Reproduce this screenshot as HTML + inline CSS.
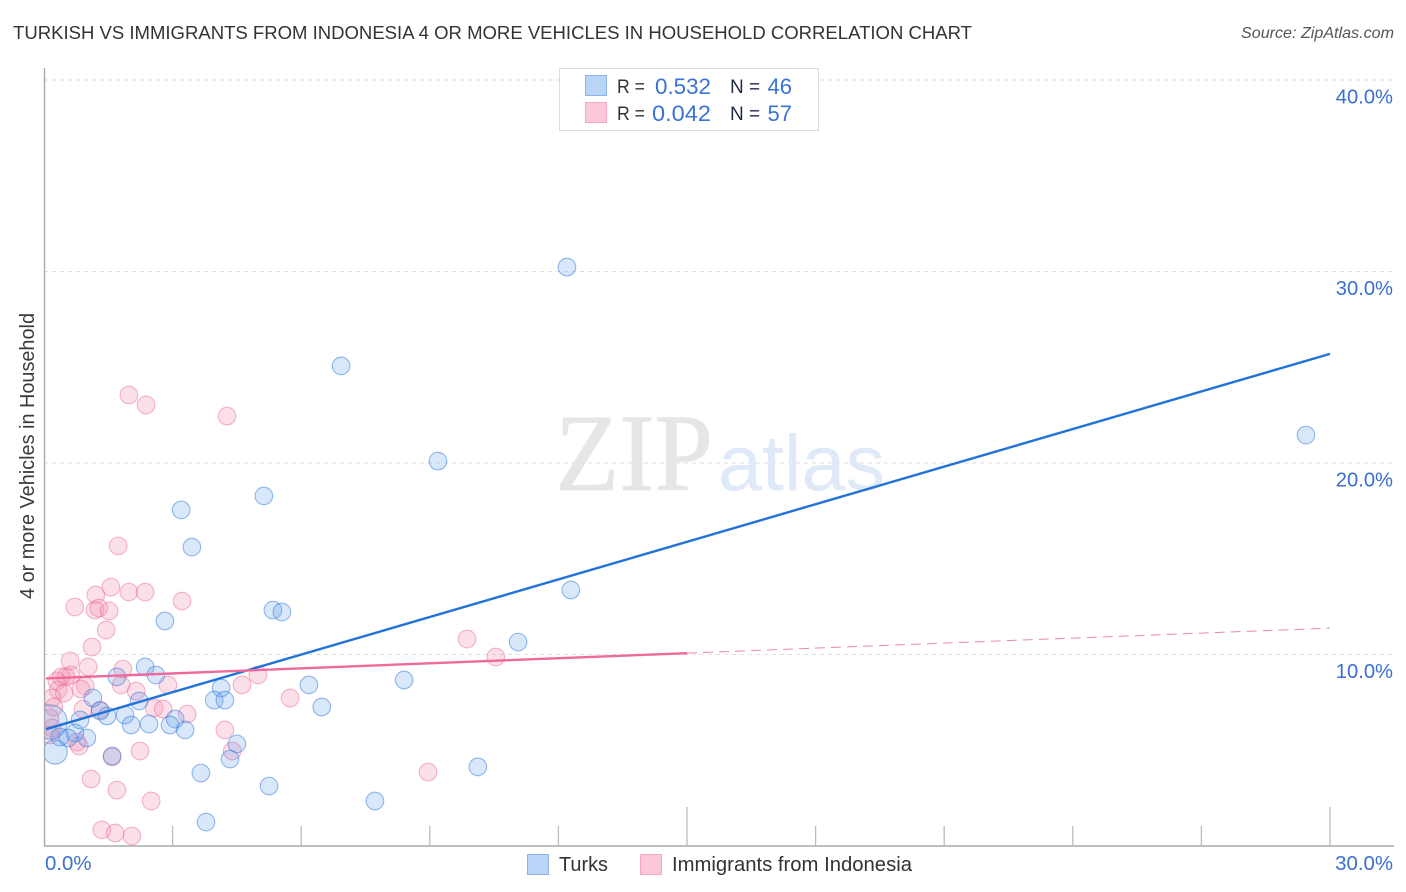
<!DOCTYPE html>
<html lang="en">
<head>
<meta charset="utf-8">
<title>Turkish vs Immigrants from Indonesia 4 or more Vehicles in Household Correlation Chart</title>
<style>
html,body{margin:0;padding:0;background:#fff;}
svg{display:block;font-family:"Liberation Sans",sans-serif;}
</style>
</head>
<body>
<svg id="chart" width="1406" height="892" viewBox="0 0 1406 892" xmlns="http://www.w3.org/2000/svg">
  <defs>
    <clipPath id="plot-clip"><rect x="45" y="68" width="1349" height="777.5"/></clipPath>
  </defs>
  <rect x="0" y="0" width="1406" height="892" fill="#fff"/>
  <text x="13" y="39" font-size="18.5" fill="#333" textLength="959" lengthAdjust="spacingAndGlyphs">TURKISH VS IMMIGRANTS FROM INDONESIA 4 OR MORE VEHICLES IN HOUSEHOLD CORRELATION CHART</text>
  <text x="1394" y="38" font-size="16" font-style="italic" fill="#555" text-anchor="end" textLength="153" lengthAdjust="spacingAndGlyphs">Source: ZipAtlas.com</text>

  <g id="grid"></g>

  <g>
    <text x="555" y="490" style="font-family:'Liberation Serif',serif" font-size="110" fill="#e6e6e6" stroke="#e6e6e6" stroke-width="0.8" textLength="158" lengthAdjust="spacingAndGlyphs">ZIP</text>
    <text x="718" y="490" style="font-family:'Liberation Sans',sans-serif" font-size="79" fill="#dfe9f8" textLength="167" lengthAdjust="spacingAndGlyphs">atlas</text>
  </g>

  <g id="axes"></g>
  <g id="points" clip-path="url(#plot-clip)"></g>
  <g id="trends"></g>
  <g id="labels"></g>

  <text transform="translate(34 456) rotate(-90)" font-size="20" fill="#3a3a3a" text-anchor="middle" textLength="286" lengthAdjust="spacingAndGlyphs">4 or more Vehicles in Household</text>

  <g>
    <rect x="559.5" y="68.5" width="259" height="62" fill="#fff" stroke="#ddd"/>
    <rect x="585.5" y="75.5" width="21" height="20" fill="#b9d4f7" stroke="#8ab4ea"/>
    <rect x="585.5" y="102.5" width="21" height="20" fill="#fcc8d9" stroke="#f3a9c1"/>
    <text x="617" y="93" font-size="19" fill="#333" textLength="28" lengthAdjust="spacingAndGlyphs">R =</text>
    <text x="655" y="94" font-size="22" fill="#3a73d4" textLength="56" lengthAdjust="spacingAndGlyphs">0.532</text>
    <text x="730" y="93" font-size="19" fill="#1f2a44">N =</text>
    <text x="792" y="94" font-size="22" fill="#3a73d4" text-anchor="end">46</text>
    <text x="617" y="120" font-size="19" fill="#333" textLength="28" lengthAdjust="spacingAndGlyphs">R =</text>
    <text x="652" y="121" font-size="22" fill="#3a73d4" textLength="59" lengthAdjust="spacingAndGlyphs">0.042</text>
    <text x="730" y="120" font-size="19" fill="#1f2a44">N =</text>
    <text x="792" y="121" font-size="22" fill="#3a73d4" text-anchor="end">57</text>
  </g>

  <g>
    <rect x="527.5" y="854.5" width="21" height="20" fill="#b9d4f7" stroke="#8ab4ea"/>
    <text x="559" y="871" font-size="20" fill="#333" textLength="49" lengthAdjust="spacingAndGlyphs">Turks</text>
    <rect x="640.5" y="854.5" width="21" height="20" fill="#fcc8d9" stroke="#f3a9c1"/>
    <text x="672" y="871" font-size="20" fill="#333" textLength="240" lengthAdjust="spacingAndGlyphs">Immigrants from Indonesia</text>
  </g>
</svg>
<script>
const yTicks = [10, 20, 30, 40];
const yTickLabels = ["10.0%", "20.0%", "30.0%", "40.0%"];
const xTicks = [3, 6, 9, 12, 15, 18, 21, 24, 27, 30];
const xMajorTicks = [15, 30];
const xEndLabels = ["0.0%", "30.0%"];
const xEndValues = [0, 30];

const turksX = [12.20,6.93,29.44,9.19,5.13,3.20,3.45,12.29,5.34,5.55,2.82,11.06,2.36,2.61,1.70,8.40,6.18,4.13,3.97,4.22,1.14,2.22,6.48,1.31,1.47,1.89,0.84,3.06,2.45,2.03,2.94,3.29,0.72,1.00,0.37,0.56,4.50,1.59,4.34,0.26,10.12,3.66,5.25,7.72,3.78,0.14];
const turksY = [30.23,25.07,21.46,20.10,18.28,17.55,15.61,13.37,12.32,12.22,11.75,10.65,9.35,8.93,8.83,8.67,8.41,8.25,7.62,7.62,7.73,7.57,7.26,7.05,6.79,6.84,6.58,6.63,6.37,6.32,6.32,6.06,5.90,5.64,5.69,5.64,5.33,4.70,4.54,4.91,4.13,3.81,3.13,2.35,1.25,6.48];
const turksWeight = [1,1,1,1,1,1,1,1,1,1,1,1,1,1,1,1,1,1,1,1,1,1,1,1,1,1,1,1,1,1,1,1,1,1,1,1,1,1,1,1.9,1,1,1,1,1,3.8];

const indonesiaX = [1.98,2.38,4.27,1.73,1.56,1.21,1.98,2.36,3.22,0.72,1.19,1.28,1.52,1.45,1.12,0.61,1.03,1.84,4.99,0.63,0.51,0.40,0.30,1.80,0.96,2.89,4.62,0.33,0.47,0.86,2.15,0.19,5.74,0.91,0.23,2.57,2.78,3.34,1.31,0.14,4.22,0.19,0.14,0.77,0.82,4.39,2.24,1.59,8.96,1.10,1.70,2.50,1.35,1.66,2.05,9.87,10.54];
const indonesiaY = [23.55,23.03,22.45,15.67,13.52,13.11,13.26,13.26,12.79,12.48,12.32,12.43,12.27,11.28,10.39,9.66,9.35,9.24,8.93,8.93,8.83,8.83,8.62,8.41,8.36,8.41,8.41,8.15,7.99,8.20,8.09,7.73,7.73,7.15,7.26,7.21,7.15,6.89,7.10,6.68,6.06,6.16,5.80,5.43,5.22,4.96,4.96,4.65,3.86,3.50,2.92,2.35,0.84,0.68,0.52,10.81,9.87];

const turksTrendX = [0, 30];
const turksTrendY = [6.1, 25.7];
const indonesiaSolidX = [0, 15];
const indonesiaSolidY = [8.75, 10.07];
const indonesiaDashedX = [15, 30];
const indonesiaDashedY = [10.07, 11.38];

const NS = "http://www.w3.org/2000/svg";
const xScale = v => 44 + v * (1286 / 30);
const yScale = v => 846 - v * 19.15;
const baseRadius = 8.8;

function make(tag, attrs, parent) {
  const el = document.createElementNS(NS, tag);
  for (const k in attrs) el.setAttribute(k, attrs[k]);
  parent.appendChild(el);
  return el;
}

const grid = document.getElementById("grid");
const axes = document.getElementById("axes");
const points = document.getElementById("points");
const trends = document.getElementById("trends");
const labels = document.getElementById("labels");

yTicks.forEach((t, i) => {
  const line = make("line", {x1: 44, x2: 1394, y1: yScale(t), y2: yScale(t), stroke: "#ddd", "stroke-width": 1, "stroke-dasharray": "4 4"}, grid);
  
  
  const label = make("text", {x: 1393, y: yScale(t) + 23.5, "font-size": 20.2, fill: "#3a6fd0", "text-anchor": "end"}, labels);
  label.textContent = yTickLabels[i];
  
  
});

const yAxis = make("line", {x1: 44.5, x2: 44.5, y1: 68, y2: 846, stroke: "#aaa", "stroke-width": 1.4}, axes);


const xAxis = make("line", {x1: 44, x2: 1394, y1: 846, y2: 846, stroke: "#aaa", "stroke-width": 1.4}, axes);



xTicks.forEach(t => {
  const len = xMajorTicks.includes(t) ? 39 : 20;
  const tick = make("line", {x1: xScale(t), x2: xScale(t), y1: 846 - len, y2: 846, stroke: "#bbb", "stroke-width": 1.3}, axes);
  
  
});

xEndValues.forEach((v, i) => {
  const label = make("text", {x: i === 0 ? 45 : 1393, y: 870, "font-size": 20.4, fill: "#3a6fd0", "text-anchor": i === 0 ? "start" : "end"}, labels);
  label.textContent = xEndLabels[i];
  
  
});

function drawSeries(xs, ys, weights, fill, fillOpacity, stroke, name) {
  xs.forEach((x, i) => {
    const w = weights ? weights[i] : 1;
    const c = make("circle", {cx: xScale(x), cy: yScale(ys[i]), r: baseRadius * Math.sqrt(w), fill: fill, "fill-opacity": fillOpacity, stroke: stroke, "stroke-opacity": 0.5, "stroke-width": 1.1}, points);
    
    
  });
}
drawSeries(indonesiaX, indonesiaY, null, "#f48fb1", 0.28, "#ec6d97", "indonesia");
drawSeries(turksX, turksY, turksWeight, "#5b9bea", 0.24, "#2f78d8", "turks");

const turksLine = make("line", {x1: xScale(turksTrendX[0]) + 2, y1: yScale(turksTrendY[0]), x2: xScale(turksTrendX[1]), y2: yScale(turksTrendY[1]), stroke: "#2272d8", "stroke-width": 2.4}, trends);



const indoSolid = make("line", {x1: xScale(indonesiaSolidX[0]) + 2, y1: yScale(indonesiaSolidY[0]), x2: xScale(indonesiaSolidX[1]), y2: yScale(indonesiaSolidY[1]), stroke: "#ef6a9a", "stroke-width": 2.4}, trends);



const indoDashed = make("line", {x1: xScale(indonesiaDashedX[0]), y1: yScale(indonesiaDashedY[0]), x2: xScale(indonesiaDashedX[1]), y2: yScale(indonesiaDashedY[1]), stroke: "#e88aab", "stroke-width": 1, "stroke-dasharray": "10 6"}, trends);


</script>
</body>
</html>
